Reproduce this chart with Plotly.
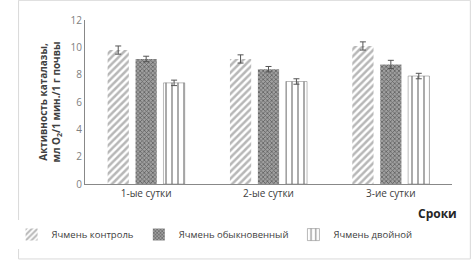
import plotly.graph_objects as go

categories = ["1-ые сутки", "2-ые сутки", "3-ие сутки"]
series_names = ["Ячмень контроль", "Ячмень обыкновенный", "Ячмень двойной"]
control = [9.8, 9.15, 10.1]
common = [9.15, 8.4, 8.75]
double = [7.4, 7.5, 7.9]
err_control = [0.3, 0.3, 0.3]
err_common = [0.2, 0.2, 0.3]
err_double = [0.2, 0.2, 0.2]

fig = go.Figure()
styles = [
    dict(shape="/", fgcolor="#707070", bgcolor="white", size=5, solidity=0.5),
    dict(shape="x", fgcolor="#202020", bgcolor="#a0a0a0", size=3, solidity=0.45),
    dict(shape="|", fgcolor="#202020", bgcolor="white", size=6, solidity=0.25),
]
line_w = [0, 0, 0.5]
for name, vals, errs, st, lw in zip(series_names, [control, common, double],
                                   [err_control, err_common, err_double], styles, line_w):
    fig.add_trace(go.Bar(
        x=categories, y=vals, name=name,
        marker=dict(color="white", pattern=st, line=dict(color="#777777", width=lw)),
        error_y=dict(type="data", array=errs, color="#555555", thickness=1, width=3),
    ))

fig.update_layout(
    width=473, height=261,
    margin=dict(l=70, r=21, t=20, b=77),
    paper_bgcolor="white", plot_bgcolor="white",
    barmode="group", bargap=0.315, bargroupgap=0.24,
    font=dict(family="Open Sans, Arial, sans-serif", size=10, color="#595959"),
    showlegend=True,
    legend=dict(orientation="h", x=-0.2, xanchor="left", y=-0.22, yanchor="top",
                font=dict(size=9.5, color="#404040"), itemwidth=30),
    xaxis=dict(showline=True, linecolor="#888888", linewidth=1, ticks="",
               tickfont=dict(size=10, color="#404040")),
    yaxis=dict(range=[0, 12], dtick=2, showline=True, linecolor="#888888", linewidth=1,
               showgrid=False, zeroline=False, ticks="",
               tickfont=dict(size=10, color="#808080"),
               title=dict(text="<b>Активность каталазы,<br>мл O<sub>2</sub>/1 мин./1 г почвы</b>",
                          font=dict(size=10, color="#404040"), standoff=8)),
    shapes=[dict(type="rect", xref="paper", yref="paper", x0=-0.181, x1=1.05, y0=-0.457, y1=1.12,
                 line=dict(color="#d9d9d9", width=1))],
    annotations=[dict(text="<b>Сроки</b>", xref="paper", yref="paper", x=1.02, y=-0.18,
                      xanchor="right", yanchor="middle", showarrow=False,
                      font=dict(size=12, color="#262626"))],
)
fig.write_html("out.html", config={"displayModeBar": False},
               post_script="document.body.style.margin='0';")
